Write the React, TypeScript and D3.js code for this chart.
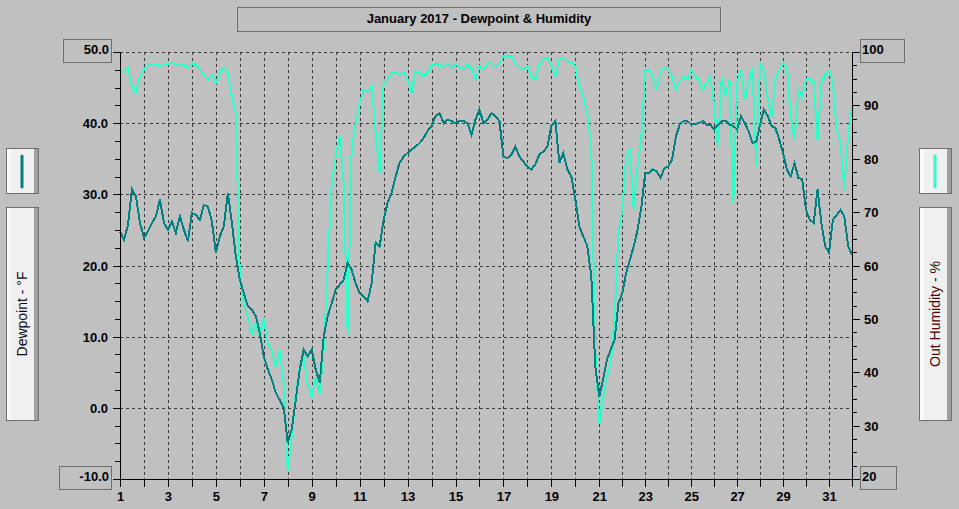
import * as d3 from 'd3';

// Chart text
const title = 'January 2017 - Dewpoint & Humidity';
const dewLabel = 'Dewpoint - °F';
const humLabel = 'Out Humidity - %';

// Readings every 4 hours, Jan 1 00:00 through Feb 1 00:00
const readingsPerDay = 6;

const dewpoint = [
  24.8, 23.6, 25.7, 30.7, 29.7, 26.0,
  23.9, 24.8, 26.0, 26.9, 29.3, 26.0,
  25.0, 26.2, 24.6, 26.9, 25.0, 23.4,
  27.4, 27.1, 26.4, 28.5, 28.3, 26.2,
  21.8, 24.1, 25.5, 30.2, 26.0, 21.3,
  18.0, 16.1, 14.3, 13.8, 12.9, 10.5,
  7.2, 5.4, 4.0, 2.1, 1.1, 0.0,
  -4.9, -3.0, 1.1, 5.4, 8.2, 7.2,
  8.2, 5.4, 3.5, 10.0, 12.9, 14.7,
  16.6, 17.3, 18.0, 20.4, 19.4, 17.5,
  16.1, 15.7, 15.0, 17.5, 23.2, 22.7,
  26.4, 28.8, 30.2, 32.5, 34.4, 35.3,
  35.8, 36.3, 36.7, 37.2, 37.9, 38.9,
  39.6, 41.0, 41.4, 40.0, 40.5, 40.3,
  40.0, 40.3, 40.3, 40.0, 38.4, 40.5,
  41.9, 40.0, 40.5, 41.4, 41.0, 40.3,
  35.3, 35.1, 35.6, 36.7, 35.3, 34.6,
  33.9, 33.5, 34.2, 35.6, 36.0, 36.7,
  39.6, 40.3, 34.4, 35.8, 33.5, 32.5,
  29.3, 25.5, 24.1, 22.7, 18.5, 5.8,
  1.6, 4.0, 6.8, 8.2, 9.6, 14.7,
  16.1, 18.9, 20.8, 22.7, 25.0, 28.3,
  33.0, 33.0, 33.5, 33.2, 32.3, 33.7,
  33.9, 34.9, 38.1, 39.8, 40.3, 40.3,
  39.8, 39.9, 40.0, 40.3, 39.8, 39.8,
  39.1, 39.8, 40.3, 40.3, 39.8, 39.6,
  39.1, 41.0, 40.0, 38.9, 37.2, 37.4,
  39.8, 41.9, 41.0, 39.6, 39.3, 37.7,
  35.8, 33.5, 32.5, 34.4, 32.3, 32.1,
  27.8, 26.4, 26.0, 30.7, 26.0, 22.7,
  21.8, 26.4, 27.1, 27.8, 26.9, 22.7,
  21.5,
];

const humidity = [
  96.1, 96.4, 97.0, 93.6, 92.6, 95.7,
  96.7, 97.6, 97.8, 97.8, 97.3, 97.8,
  97.8, 97.9, 97.8, 97.6, 97.6, 97.0,
  97.9, 97.6, 96.7, 95.7, 94.8, 95.7,
  94.2, 96.1, 97.0, 96.1, 91.7, 88.5,
  57.9, 52.8, 50.3, 47.2, 49.1, 46.6,
  50.3, 45.3, 44.1, 41.0, 44.1, 37.8,
  21.5, 27.8, 35.9, 41.0, 42.8, 37.8,
  35.3, 39.1, 35.9, 44.1, 59.7, 75.4,
  80.4, 84.2, 75.4, 47.2, 81.7, 86.7,
  90.4, 92.9, 92.6, 93.6, 84.8, 77.3,
  94.2, 94.8, 96.1, 96.1, 95.7, 96.4,
  94.8, 92.3, 96.4, 96.1, 95.4, 96.1,
  97.3, 97.9, 97.6, 97.0, 97.9, 97.0,
  97.6, 97.3, 96.7, 97.6, 97.0, 94.8,
  97.3, 96.7, 97.9, 97.9, 97.0, 97.9,
  99.2, 99.2, 99.2, 97.9, 97.0, 96.7,
  97.3, 95.4, 94.8, 97.6, 98.6, 98.9,
  97.6, 95.4, 98.6, 98.9, 98.2, 98.2,
  97.3, 93.6, 91.7, 88.5, 81.7, 44.1,
  30.3, 35.3, 39.1, 41.6, 50.3, 66.0,
  70.4, 80.4, 81.7, 70.4, 78.5, 84.2,
  96.7, 96.7, 95.4, 92.9, 96.7, 97.0,
  96.7, 95.4, 92.9, 94.5, 95.4, 94.8,
  96.7, 95.4, 94.8, 92.9, 94.2, 95.4,
  89.8, 82.3, 95.4, 91.7, 94.8, 71.6,
  94.2, 96.7, 91.0, 94.2, 97.0, 78.5,
  97.9, 96.7, 91.0, 87.9, 94.8, 96.7,
  97.9, 97.3, 87.9, 83.5, 92.9, 91.7,
  94.8, 95.1, 94.2, 83.5, 94.2, 95.7,
  96.7, 94.2, 85.4, 82.9, 74.1, 84.8,
  89.8,
];

const dayTicks = d3.range(1, 33);
const dayLabels = [1, 3, 5, 7, 9, 11, 13, 15, 17, 19, 21, 23, 25, 27, 29, 31];
const dewTicks = [40, 30, 20, 10, 0];
const dewMinor = d3.range(-10, 50.1, 2.5);
const humTicks = [90, 80, 70, 60, 50, 40, 30];
const humMinor = d3.range(20, 100.1, 2.5);

const BG = '#c0c0c0';
const DEW_COLOR = '#008080';
const HUM_COLOR = '#2dffca';
const BORDER = '#6e6e6e';
const FONT = '"Liberation Sans", Arial, sans-serif';

function Box({ x, y, w, h }: { x: number; y: number; w: number; h: number }) {
  return <rect x={x + 0.5} y={y + 0.5} width={w} height={h} fill='none' stroke={BORDER} />;
}

function LegendBox({ x, y, w, h }: { x: number; y: number; w: number; h: number }) {
  return (
    <g shapeRendering='crispEdges'>
      <rect x={x + 0.5} y={y + 0.5} width={w} height={h} fill='#f0f0f0' stroke={BORDER} />
      <rect x={x + 1} y={y + 1} width={4} height={h - 1} fill='#fafafa' />
      <rect x={x + w - 4} y={y + 1} width={4} height={h - 1} fill='#a0a0a0' />
    </g>
  );
}

export default function App() {
  const left = 120;
  const right = 852;
  const top = 52;
  const bottom = 479;

  // x spacing in the original is slightly tighter after the 21st
  const x = d3.scaleLinear().domain([1, 21, 32]).range([left, 599.3, right]);
  const yDew = d3.scaleLinear().domain([-10, 50]).range([bottom, top]);
  const yHum = d3.scaleLinear().domain([20, 100]).range([bottom, top]);

  const t = (i: number) => 1 + i / readingsPerDay;
  const dewLine = d3
    .line<number>()
    .x((_, i) => x(t(i)))
    .y((d) => yDew(d));
  const humLine = d3
    .line<number>()
    .x((_, i) => x(t(i)))
    .y((d) => yHum(d));

  const px = (v: number) => Math.round(v) + 0.5;

  return (
    <svg
      width={959}
      height={509}
      style={{ position: 'fixed', left: 0, top: 0, background: BG }}
      fontFamily={FONT}
    >
      <rect width={959} height={509} fill={BG} />

      {/* title */}
      <Box x={237} y={7} w={483} h={24} />
      <text x={479} y={23} textAnchor='middle' fontSize={13} fontWeight='bold' fill='#000'>
        {title}
      </text>

      {/* grid */}
      <g stroke='#3a3a3a' strokeDasharray='3,3' strokeWidth={1} shapeRendering='crispEdges'>
        {dayTicks.slice(1, -1).map((d) => (
          <line key={'gx' + d} x1={px(x(d))} x2={px(x(d))} y1={top} y2={bottom} />
        ))}
        {[50, ...dewTicks].map((v) => (
          <line key={'gy' + v} x1={left} x2={right} y1={px(yDew(v))} y2={px(yDew(v))} />
        ))}
      </g>

      {/* series */}
      <g shapeRendering='crispEdges' fill='none' strokeWidth={2}>
        <path d={humLine(humidity) ?? ''} stroke={HUM_COLOR} />
        <path d={dewLine(dewpoint) ?? ''} stroke={DEW_COLOR} />
      </g>

      {/* axes */}
      <g stroke='#000' strokeWidth={1} shapeRendering='crispEdges'>
        <line x1={px(left)} x2={px(left)} y1={top} y2={bottom + 1} />
        <line x1={px(right)} x2={px(right)} y1={top} y2={bottom + 1} />
        <line x1={left} x2={right + 1} y1={px(bottom)} y2={px(bottom)} />
        {dayTicks.map((d) => (
          <line key={'tx' + d} x1={px(x(d))} x2={px(x(d))} y1={bottom} y2={bottom + 8} />
        ))}
        {dewMinor.map((v) => (
          <line
            key={'ld' + v}
            x1={v % 10 === 0 ? left - 7 : left - 5}
            x2={left}
            y1={px(yDew(v))}
            y2={px(yDew(v))}
          />
        ))}
        {humMinor.map((v) => (
          <line
            key={'rh' + v}
            x1={right}
            x2={v % 10 === 0 ? right + 8 : right + 5}
            y1={px(yHum(v))}
            y2={px(yHum(v))}
          />
        ))}
      </g>

      {/* tick labels */}
      <g fontSize={13} fontWeight='bold' fill='#000'>
        {dayLabels.map((d) => (
          <text key={'lx' + d} x={x(d) + 0.5} y={501} textAnchor='middle'>
            {d}
          </text>
        ))}
        {dewTicks.map((v) => (
          <text key={'ly' + v} x={108} y={yDew(v) + 5} textAnchor='end'>
            {v.toFixed(1)}
          </text>
        ))}
        {humTicks.map((v) => (
          <text key={'ry' + v} x={864} y={yHum(v) + 5} textAnchor='start'>
            {v}
          </text>
        ))}
      </g>

      {/* end-of-scale boxes */}
      <g shapeRendering='crispEdges'>
        <Box x={63} y={39} w={48} h={23} />
        <Box x={59} y={466} w={52} h={23} />
        <Box x={860} y={39} w={44} h={23} />
        <Box x={860} y={466} w={36} h={23} />
      </g>
      <g fontSize={13} fontWeight='bold' fill='#000'>
        <text x={109} y={54} textAnchor='end'>
          {(50).toFixed(1)}
        </text>
        <text x={109} y={481} textAnchor='end'>
          {(-10).toFixed(1)}
        </text>
        <text x={862} y={54}>
          100
        </text>
        <text x={862} y={481}>
          20
        </text>
      </g>

      {/* left legend */}
      <LegendBox x={6} y={148} w={32} h={45} />
      <line x1={22} x2={22} y1={156} y2={187} stroke={DEW_COLOR} strokeWidth={3} strokeLinecap='round' />
      <LegendBox x={6} y={207} w={32} h={213} />
      <text
        transform='translate(27,314) rotate(-90)'
        textAnchor='middle'
        fontSize={14}
        fill='#0a0a28'
      >
        {dewLabel}
      </text>

      {/* right legend */}
      <LegendBox x={919} y={148} w={32} h={45} />
      <line x1={935} x2={935} y1={156} y2={187} stroke={HUM_COLOR} strokeWidth={3} strokeLinecap='round' />
      <LegendBox x={919} y={207} w={32} h={213} />
      <text
        transform='translate(940,314) rotate(-90)'
        textAnchor='middle'
        fontSize={14}
        fill='#4a0000'
      >
        {humLabel}
      </text>
    </svg>
  );
}
